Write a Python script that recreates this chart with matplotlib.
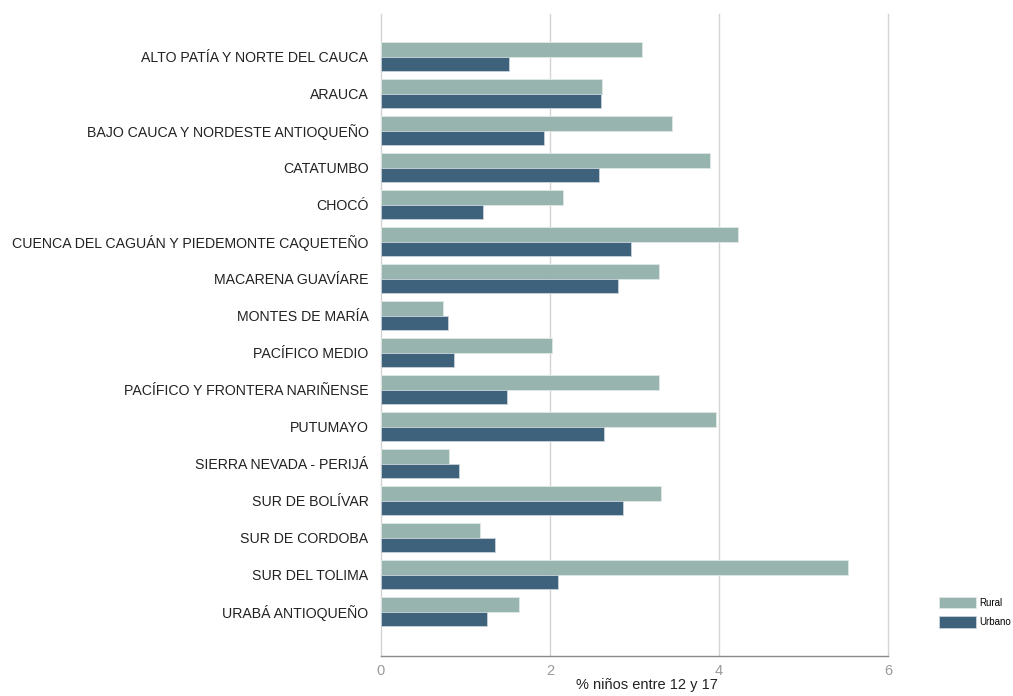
import matplotlib
matplotlib.use("Agg")
import matplotlib.pyplot as plt
import numpy as np

plt.rcParams["font.family"] = ["Liberation Sans", "DejaVu Sans"]

regiones = [
    "ALTO PATÍA Y NORTE DEL CAUCA",
    "ARAUCA",
    "BAJO CAUCA Y NORDESTE ANTIOQUEÑO",
    "CATATUMBO",
    "CHOCÓ",
    "CUENCA DEL CAGUÁN Y PIEDEMONTE CAQUETEÑO",
    "MACARENA GUAVÍARE",
    "MONTES DE MARÍA",
    "PACÍFICO MEDIO",
    "PACÍFICO Y FRONTERA NARIÑENSE",
    "PUTUMAYO",
    "SIERRA NEVADA - PERIJÁ",
    "SUR DE BOLÍVAR",
    "SUR DE CORDOBA",
    "SUR DEL TOLIMA",
    "URABÁ ANTIOQUEÑO",
]
rural = [3.09, 2.62, 3.45, 3.89, 2.16, 4.23, 3.29, 0.73, 2.02, 3.29, 3.96, 0.80, 3.32, 1.17, 5.53, 1.64]
urbano = [1.52, 2.61, 1.93, 2.58, 1.21, 2.96, 2.80, 0.79, 0.86, 1.49, 2.64, 0.92, 2.86, 1.35, 2.10, 1.26]
xticks = [0, 2, 4, 6]

RURAL_C = "#97b5ae"
URBANO_C = "#3e627b"

fig = plt.figure(figsize=(10.13, 6.96), dpi=100)
ax = fig.add_axes([0.376, 0.0575, 0.5006, 0.9224])

y = np.arange(len(regiones))
h = 0.385
ax.barh(y - h / 2, rural, height=h, color=RURAL_C, edgecolor="#dfe8e6", linewidth=0.6,
        label="Rural", zorder=3)
ax.barh(y + h / 2, urbano, height=h, color=URBANO_C, edgecolor="#c8d2da", linewidth=0.6,
        label="Urbano", zorder=3)

ax.set_ylim(len(regiones) - 1 + 1.2, -1.15)
ax.set_xlim(0, 6)
ax.set_yticks(y)
ax.set_yticklabels(regiones, fontsize=10.2, color="#222222")
ax.set_xticks(xticks)
ax.set_xticklabels([str(t) for t in xticks], fontsize=10.5, color="#9a9a9a")
ax.tick_params(axis="y", length=0, pad=9)
ax.tick_params(axis="x", length=0, pad=6)

ax.grid(axis="x", color="#d4d4d4", linewidth=1, zorder=0)
for gl in ax.get_xgridlines():
    gl.set_clip_on(False)
for s in ["top", "right", "left"]:
    ax.spines[s].set_visible(False)
ax.spines["bottom"].set_color("#8a8a8a")
ax.spines["bottom"].set_linewidth(1)

ax.set_xlabel("% niños entre 12 y 17", fontsize=10.5, color="#222222", labelpad=3)
ax.xaxis.set_label_coords(0.525, -0.035)

fig.legend(loc="upper left", bbox_to_anchor=(0.9235, 0.1485), frameon=False,
           fontsize=7, handlelength=3.75, handleheight=1.5, labelspacing=0.75,
           handletextpad=0.4, borderaxespad=0)

fig.savefig("out.png", dpi=100)
